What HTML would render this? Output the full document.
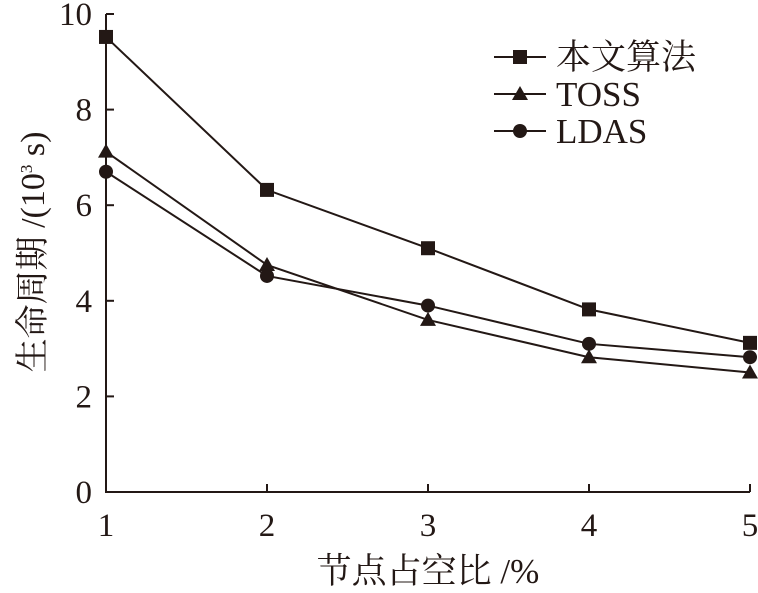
<!DOCTYPE html>
<html><head><meta charset="utf-8"><style>
body{margin:0;background:#fff}
svg text{font-family:"Liberation Serif","Noto Serif CJK SC",serif;fill:#231815}
</style></head><body>
<svg id="c" width="758" height="588" viewBox="0 0 758 588"></svg>
<script>
const categories=[1,2,3,4,5];
const yTicks=[0,2,4,6,8,10];
const seriesNames=["本文算法","TOSS","LDAS"];
const seriesA=[9.52,6.32,5.1,3.82,3.12];
const seriesT=[7.12,4.75,3.6,2.82,2.5];
const seriesL=[6.7,4.52,3.9,3.1,2.82];
const NS="http://www.w3.org/2000/svg";
const svg=document.getElementById('c');
const X=v=>106+(v-1)*161;
const Y=v=>492-v*47.8;
function mk(t,a,p){const e=document.createElementNS(NS,t);for(const k in a)e.setAttribute(k,a[k]);(p||svg).appendChild(e);return e;}
const col="#231815";
let ax=mk('path',{d:`M${X(1)} ${Y(10)} V${Y(0)} H${X(5)}`,stroke:col,'stroke-width':2,fill:'none'});


yTicks.forEach(v=>{
 mk('line',{x1:X(1),x2:X(1)+8,y1:Y(v),y2:Y(v),stroke:col,'stroke-width':2});
 let t=mk('text',{x:92,y:Y(v)+11,'text-anchor':'end','font-size':33});t.textContent=v;
 
 
});
categories.forEach(v=>{
 mk('line',{x1:X(v),x2:X(v),y1:Y(0),y2:Y(0)-8,stroke:col,'stroke-width':2});
 let t=mk('text',{x:X(v),y:536,'text-anchor':'middle','font-size':33});t.textContent=v;
 
 
});
let xt=mk('text',{x:428,y:583,'text-anchor':'middle','font-size':35});xt.textContent="节点占空比 /%";


let yt=mk('text',{transform:'translate(44,252) rotate(-90)','text-anchor':'middle','font-size':34});
yt.innerHTML='生命周期 /(10<tspan dy="-12" font-size="17">3</tspan><tspan dy="12"> s)</tspan>';


function marker(type,x,y,g){
 if(type==0)mk('rect',{x:x-7,y:y-7,width:14,height:14,fill:col},g);
 else if(type==1)mk('path',{d:`M${x} ${y-8} L${x+8} ${y+6} L${x-8} ${y+6}Z`,fill:col},g);
 else mk('circle',{cx:x,cy:y,r:7,fill:col},g);
}
[seriesA,seriesT,seriesL].forEach((s,i)=>{
 const g=mk('g',{});
 
 
 mk('polyline',{points:s.map((v,j)=>X(categories[j])+','+Y(v)).join(' '),fill:'none',stroke:col,'stroke-width':2},g);
 s.forEach((v,j)=>marker(i,X(categories[j]),Y(v),g));
 const ly=57+i*37;
 const lg=mk('g',{});
 
 
 mk('line',{x1:494,x2:546,y1:ly,y2:ly,stroke:col,'stroke-width':2},lg);
 marker(i,520,ly,lg);
 let t=mk('text',{x:556,y:ly+12,'font-size':35},lg);t.textContent=seriesNames[i];
});
</script>
</body></html>
